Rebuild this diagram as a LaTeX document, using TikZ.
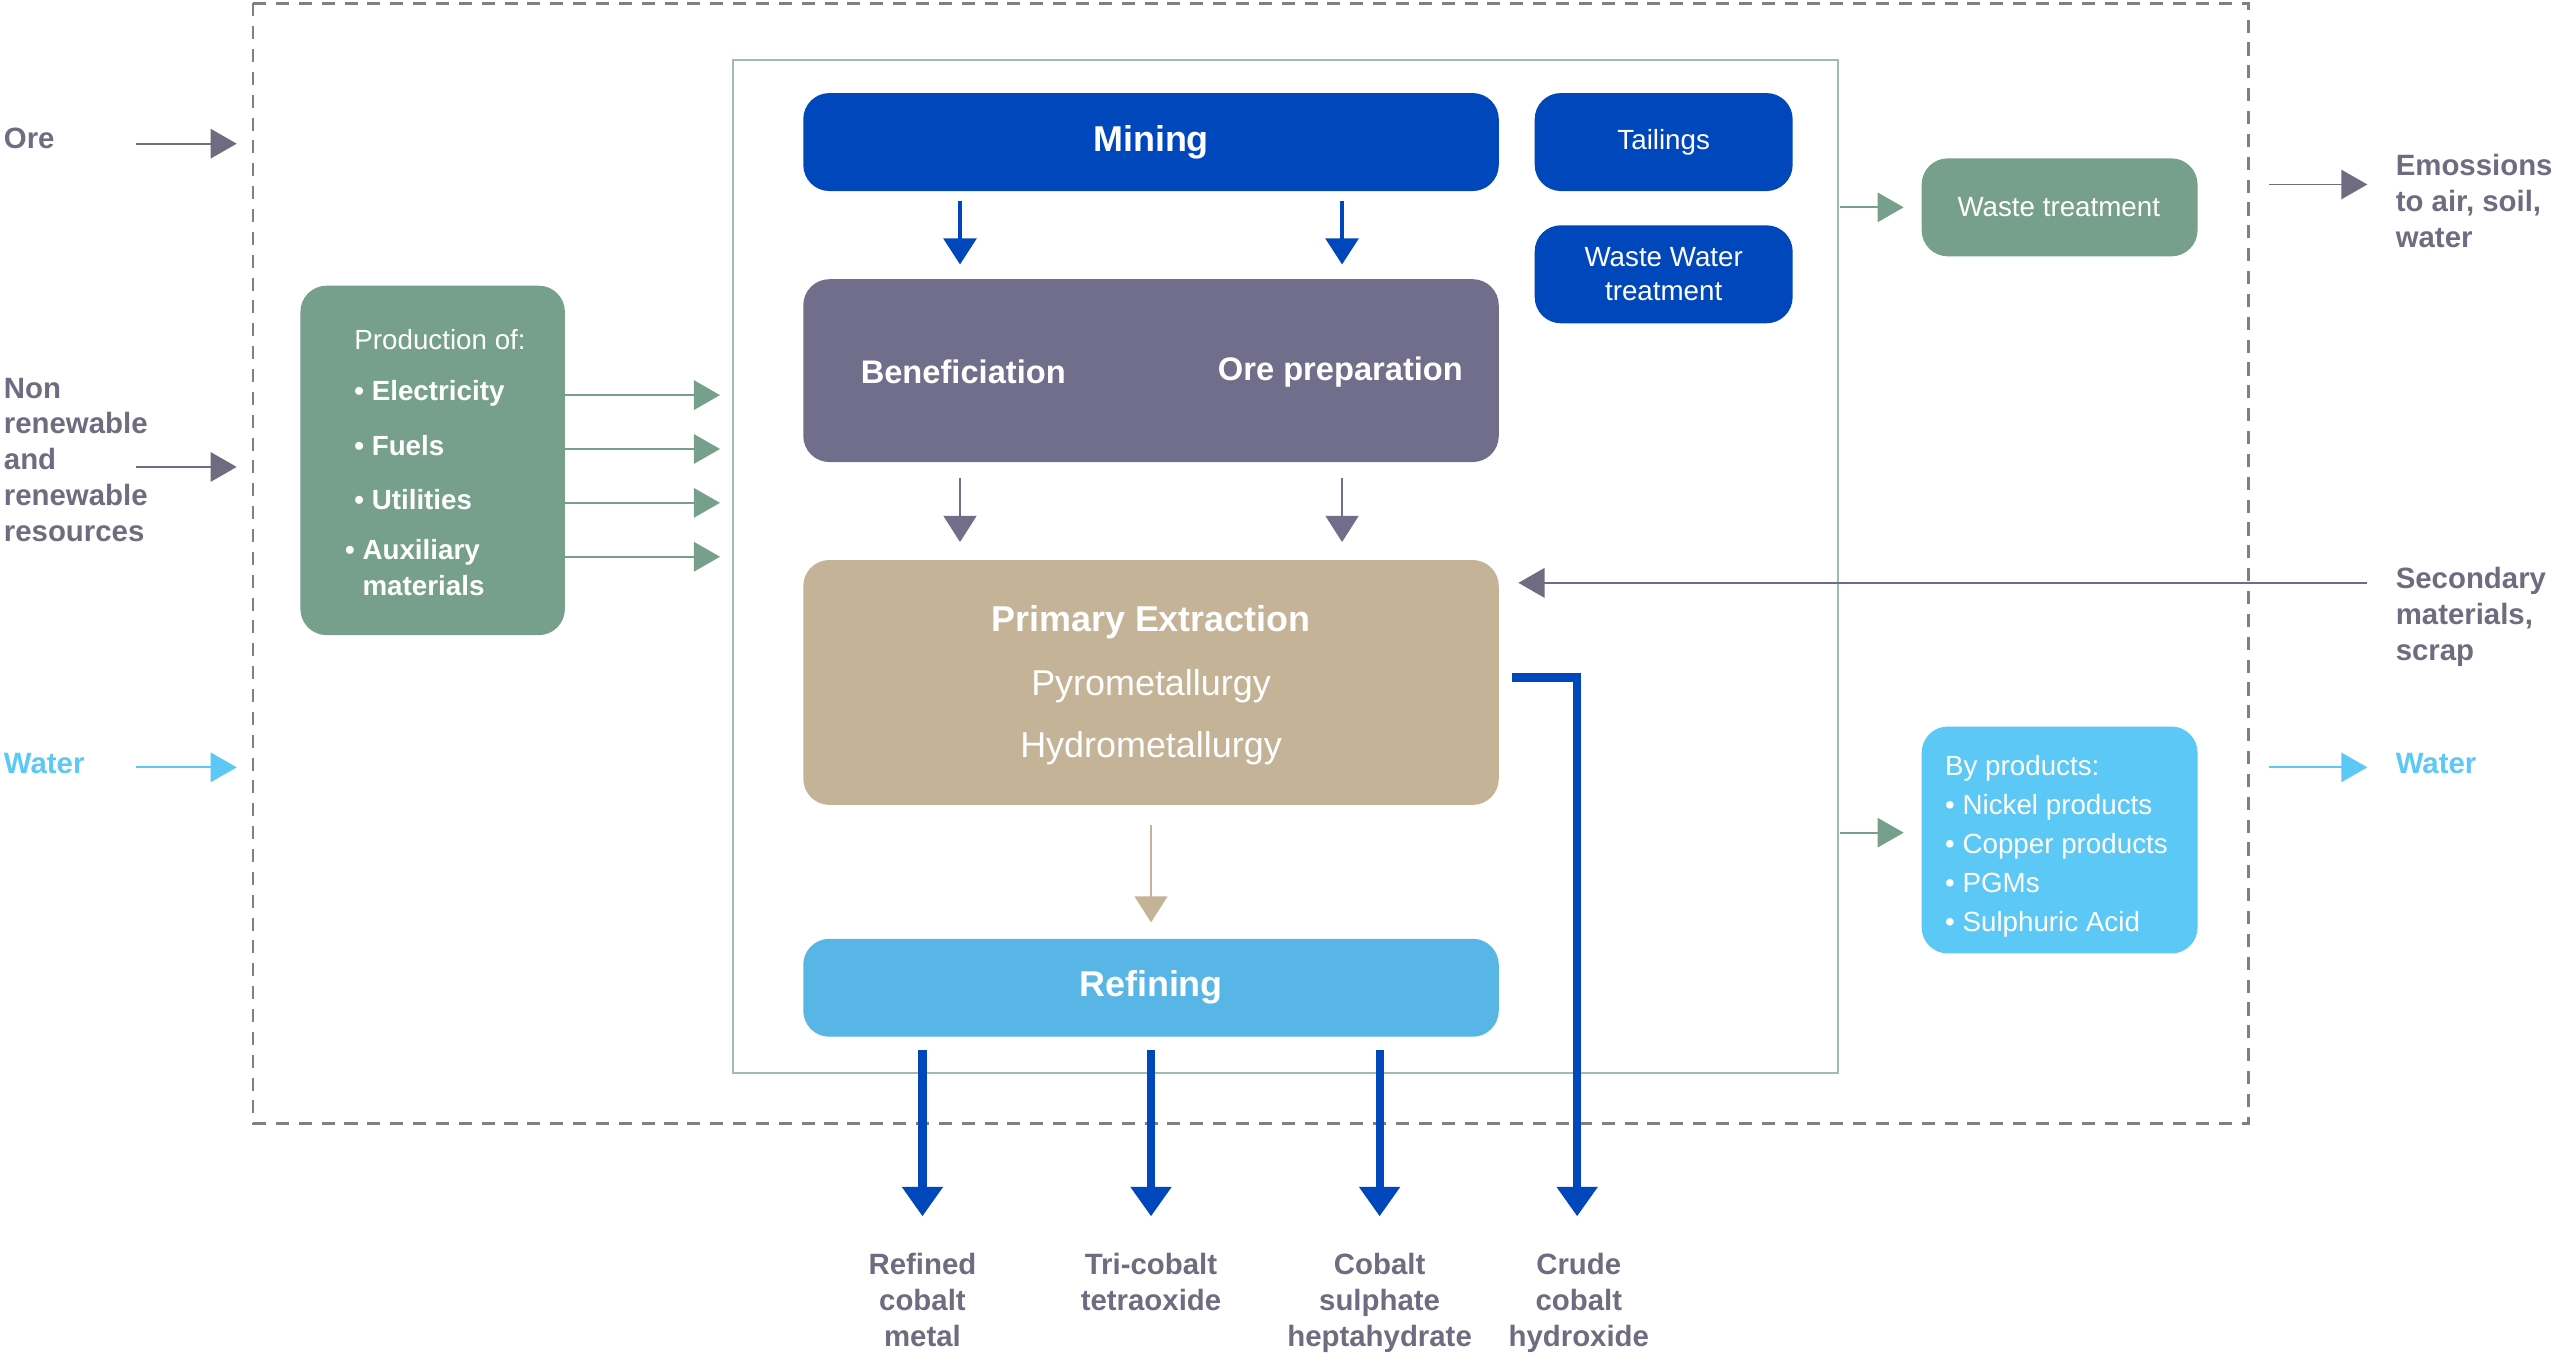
\documentclass[tikz,border=0pt]{standalone}
\usepackage{fontspec}
\setmainfont{Liberation Sans}
\usetikzlibrary{arrows.meta}
\definecolor{dblue}{HTML}{0047BB}
\definecolor{purp}{HTML}{706E8A}
\definecolor{tan}{HTML}{C4B397}
\definecolor{sky}{HTML}{58B6E7}
\definecolor{sage}{HTML}{76A08B}
\definecolor{lblue}{HTML}{5CC8F5}
\definecolor{txt}{HTML}{6E6C80}
\begin{document}
\begin{tikzpicture}[x=0.5pt,y=-0.5pt,
  box/.style={rounded corners=8pt,text=white,align=center},
  lab/.style={text=txt,font=\bfseries\fontsize{9}{11}\selectfont,align=left,anchor=north west,inner sep=0},
  blab/.style={text=txt,font=\bfseries\fontsize{9}{11}\selectfont,align=center,anchor=north,inner sep=0},
  ga/.style={-{Triangle[length=8pt,width=9pt]},color=txt,line width=0.6pt},
  sa/.style={-{Triangle[length=8pt,width=9pt]},color=sage,line width=0.6pt},
  la/.style={-{Triangle[length=8pt,width=9pt]},color=lblue,line width=0.6pt},
  ba/.style={-{Triangle[length=8pt,width=10pt]},color=dblue,line width=1.2pt},
  pa/.style={-{Triangle[length=8pt,width=10pt]},color=purp,line width=0.8pt},
  thick/.style={-{Triangle[length=9pt,width=12pt]},color=dblue,line width=2.5pt}]
\useasboundingbox (0,0) rectangle (1568,835);
\draw[dashed,gray,line width=0.8pt,dash pattern=on 4pt off 3pt] (155,2) rectangle (1377,688);
\draw[color=sage!70,line width=0.6pt] (449,37) rectangle (1126,657);
% boxes
\fill[dblue,rounded corners=8pt] (492,57) rectangle (918,117);
\node[text=white,font=\bfseries\fontsize{11}{13}\selectfont] (mining) at (705,87) {Mining};
\fill[dblue,rounded corners=8pt] (940,57) rectangle (1098,117);
\node[text=white,font=\fontsize{8.5}{10}\selectfont] (tail) at (1019,87) {Tailings};
\fill[dblue,rounded corners=8pt] (940,138) rectangle (1098,198);
\node[text=white,font=\fontsize{8.5}{10.5}\selectfont,align=center] (ww) at (1019,168) {Waste Water\\treatment};
\fill[purp,rounded corners=8pt] (492,171) rectangle (918,283);
\node[text=white,font=\bfseries\fontsize{10}{12}\selectfont] (ben) at (590,228) {Beneficiation};
\node[text=white,font=\bfseries\fontsize{10}{12}\selectfont] (orep) at (821,228) {Ore preparation};
\fill[tan,rounded corners=8pt] (492,343) rectangle (918,493);
\node[text=white,font=\bfseries\fontsize{11}{13}\selectfont] (pe) at (705,381) {Primary Extraction};
\node[text=white,font=\fontsize{11}{13}\selectfont] (pyro) at (705,420) {Pyrometallurgy};
\node[text=white,font=\fontsize{11}{13}\selectfont] (hydro) at (705,458) {Hydrometallurgy};
\fill[sky,rounded corners=8pt] (492,575) rectangle (918,635);
\node[text=white,font=\bfseries\fontsize{11}{13}\selectfont] (ref) at (705,605) {Refining};
\fill[sage,rounded corners=8pt] (184,175) rectangle (346,389);
\node[text=white,font=\fontsize{8.5}{10}\selectfont,anchor=west] (prod) at (210,208) {Production of:};
\node[text=white,font=\bfseries\fontsize{8.5}{10}\selectfont,anchor=west] (p1) at (210,241) {\textbullet\ Electricity};
\node[text=white,font=\bfseries\fontsize{8.5}{10}\selectfont,anchor=west] (p2) at (210,273) {\textbullet\ Fuels};
\node[text=white,font=\bfseries\fontsize{8.5}{10}\selectfont,anchor=west] (p3) at (210,306) {\textbullet\ Utilities};
\node[text=white,font=\bfseries\fontsize{8.5}{11}\selectfont,anchor=north west,align=left,inner sep=0] (p4) at (211,330) {\textbullet\ Auxiliary\\\phantom{\textbullet\ }materials};
\fill[sage,rounded corners=8pt] (1177,97) rectangle (1346,157);
\node[text=white,font=\fontsize{8.5}{10}\selectfont] (wt) at (1261,127) {Waste treatment};
\fill[lblue,rounded corners=8pt] (1177,445) rectangle (1346,584);
\node[text=white,font=\fontsize{8.5}{12}\selectfont,align=left,anchor=north west,inner sep=0] (bp) at (1191,462) {By products:\\\textbullet\ Nickel products\\\textbullet\ Copper products\\\textbullet\ PGMs\\\textbullet\ Sulphuric Acid};
% coordinates
\coordinate (a1) at (588,123); \coordinate (a1e) at (588,162);
\coordinate (a2) at (822,123); \coordinate (a2e) at (822,162);
\draw[ba] (a1) -- (a1e); \draw[ba] (a2) -- (a2e);
\coordinate (b1) at (588,293); \coordinate (b1e) at (588,332);
\coordinate (b2) at (822,293); \coordinate (b2e) at (822,332);
\draw[pa] (b1) -- (b1e); \draw[pa] (b2) -- (b2e);
\coordinate (c1) at (705,505); \coordinate (c1e) at (705,565);
\draw[-{Triangle[length=8pt,width=10pt]},color=tan,line width=0.8pt] (c1) -- (c1e);
\foreach \y in {242,275,308,341}{\draw[sa] (346,\y) -- (441,\y);}
% outputs
\foreach \x in {565,705,845}{\draw[thick] (\x,643) -- (\x,745);}
\draw[thick] (926,415) -- (966,415) -- (966,745);
\node[blab] (o1) at (565,767) {Refined\\cobalt\\metal};
\node[blab] (o2) at (705,767) {Tri-cobalt\\tetraoxide};
\node[blab] (o3) at (845,767) {Cobalt\\sulphate\\heptahydrate};
\node[blab] (o4) at (967,767) {Crude\\cobalt\\hydroxide};
% left inputs
\node[lab] (ore) at (2,78) {Ore};
\draw[ga] (83,88) -- (145,88);
\node[lab] (nr) at (2,231) {Non\\renewable\\and\\renewable\\resources};
\draw[ga] (83,286) -- (145,286);
\node[lab,text=lblue] (wl) at (2,461) {Water};
\draw[la] (83,470) -- (145,470);
% right
\draw[sa] (1127,127) -- (1166,127);
\draw[ga] (1390,113) -- (1450,113);
\node[lab] (em) at (1467,94) {Emossions\\to air, soil,\\water};
\draw[ga] (1450,357) -- (930,357);
\node[lab] (sec) at (1467,347) {Secondary\\materials,\\scrap};
\draw[sa] (1127,510) -- (1166,510);
\draw[la] (1390,470) -- (1450,470);
\node[lab,text=lblue] (wr) at (1467,461) {Water};
\end{tikzpicture}
\end{document}
